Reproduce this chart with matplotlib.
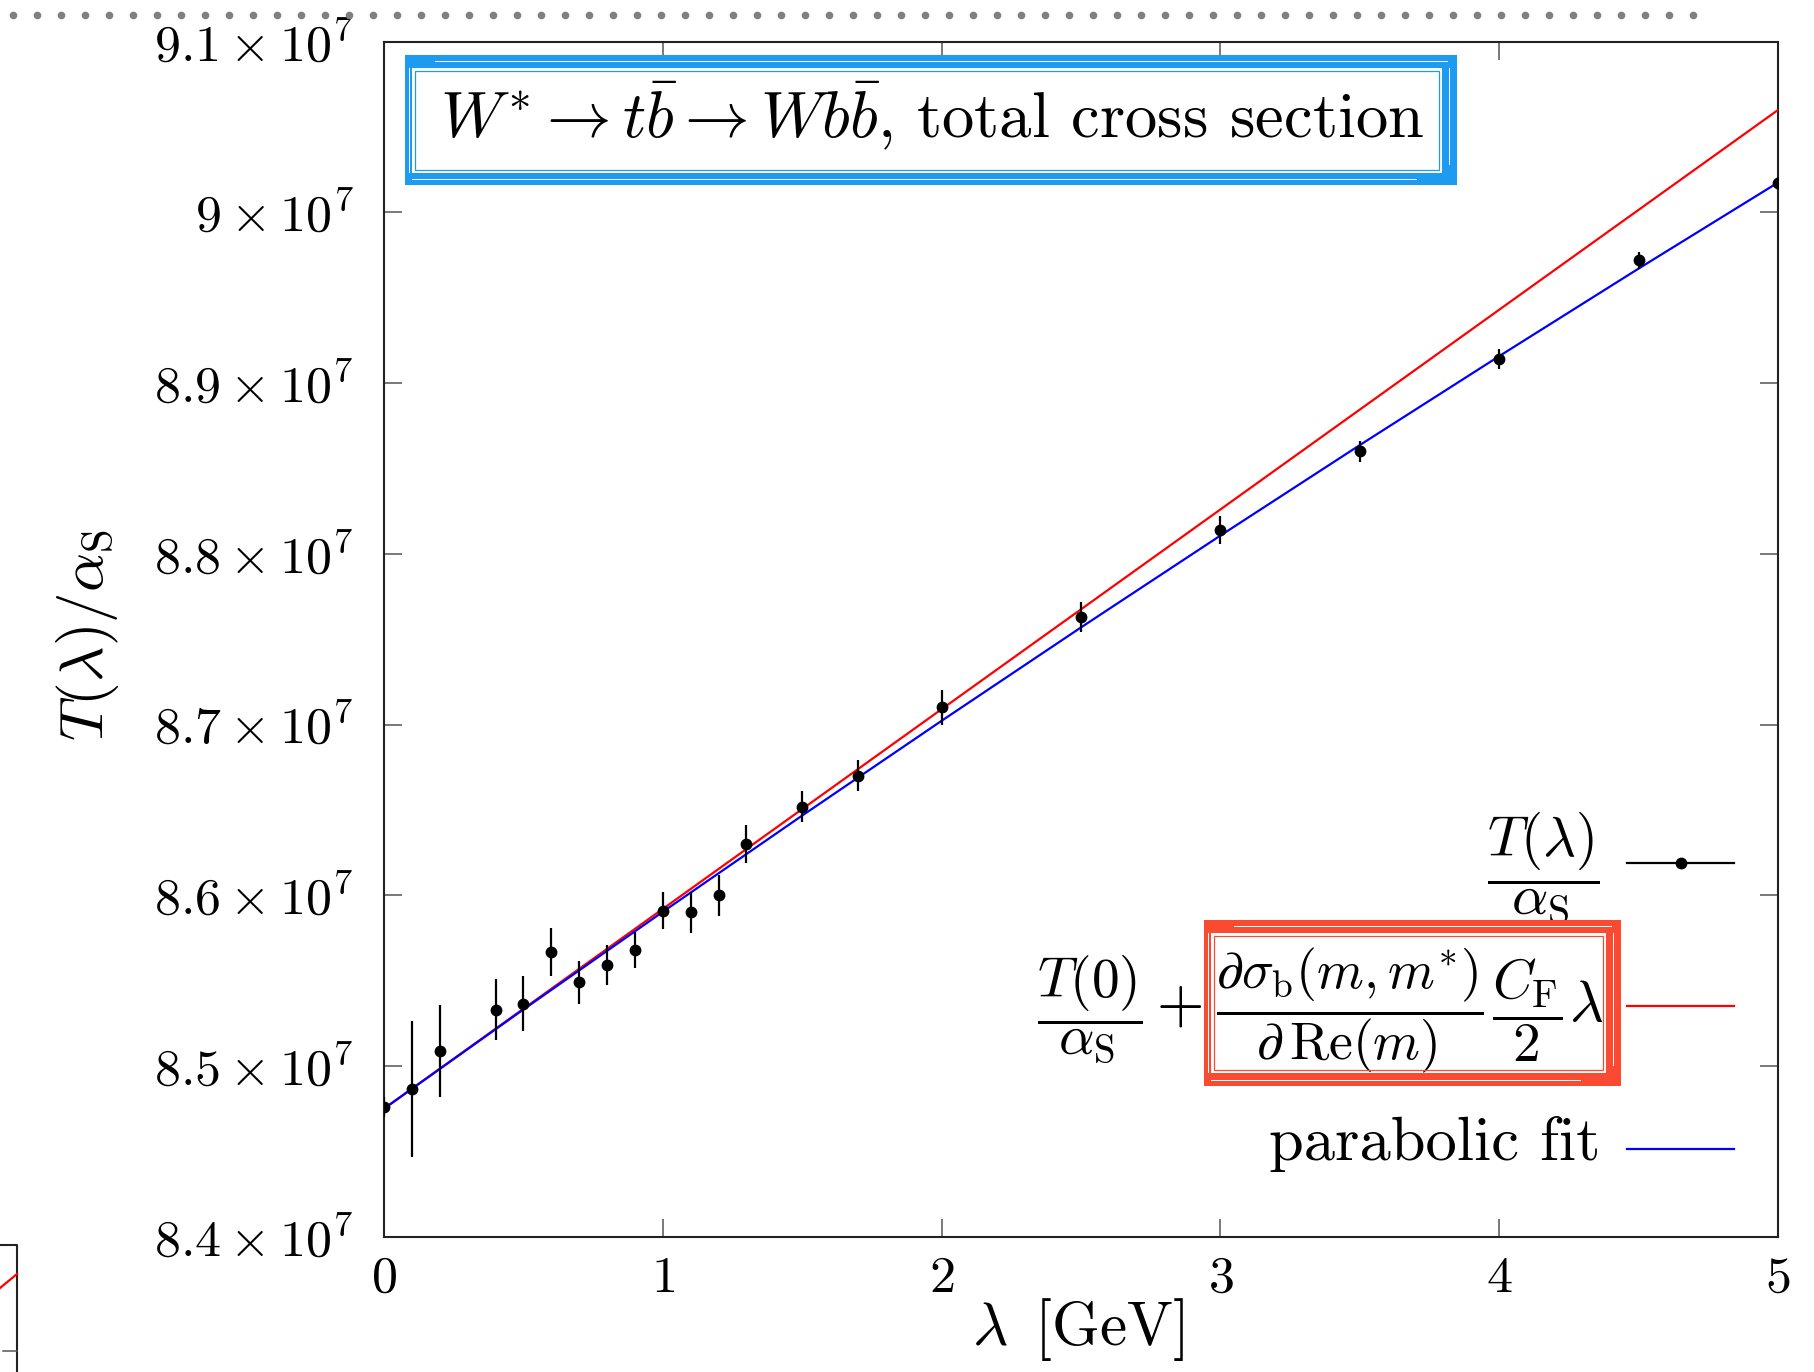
import numpy as np
import matplotlib
matplotlib.use("Agg")
import matplotlib.pyplot as plt
from matplotlib.patches import Rectangle
from matplotlib.lines import Line2D

plt.rcParams["font.family"] = "cmr10"
plt.rcParams["mathtext.fontset"] = "cm"
plt.rcParams["axes.formatter.use_mathtext"] = True

# data (values in units of 1e7)
lam = [0.0, 0.1, 0.2, 0.4, 0.5, 0.6, 0.7, 0.8, 0.9, 1.0, 1.1, 1.2, 1.3,
       1.5, 1.7, 2.0, 2.5, 3.0, 3.5, 4.0, 4.5, 5.0]
T_over_as = [8.476, 8.4865, 8.509, 8.533, 8.5365, 8.567, 8.549, 8.559, 8.568,
             8.591, 8.590, 8.600, 8.630, 8.652, 8.670, 8.710, 8.763, 8.814,
             8.860, 8.914, 8.972, 9.017]
T_err = [0.006, 0.040, 0.027, 0.018, 0.016, 0.014, 0.0127, 0.0117, 0.0105,
         0.011, 0.012, 0.012, 0.011, 0.009, 0.009, 0.010, 0.009, 0.008,
         0.006, 0.006, 0.005, 0.004]

# linear (red) line end points
lin_lam = [0.0, 5.0]
lin_val = [8.475, 9.060]

# parabolic fit (blue)
fit_lam = [0.0, 0.5, 1.0, 1.5, 2.0, 2.5, 3.0, 3.5, 4.0, 4.5, 5.0]
fit_val = [8.4750, 8.5331, 8.5903, 8.6467, 8.7022, 8.7569, 8.8107, 8.8637,
           8.9158, 8.9671, 9.0175]

yticks = [8.4, 8.5, 8.6, 8.7, 8.8, 8.9, 9.0, 9.1]
ytick_labels = [r"$8.4\times10^{7}$", r"$8.5\times10^{7}$", r"$8.6\times10^{7}$",
                r"$8.7\times10^{7}$", r"$8.8\times10^{7}$", r"$8.9\times10^{7}$",
                r"$9\times10^{7}$", r"$9.1\times10^{7}$"]
xticks = [0, 1, 2, 3, 4, 5]

W, H = 1814, 1372


def fx(x):
    return x / W


def fy(y):
    return 1 - y / H


fig = plt.figure(figsize=(W / 100, H / 100), dpi=100)
ax = fig.add_axes([fx(384), fy(1236.7), fx(1778) - fx(384), fy(41.7) - fy(1236.7)])

scale = 1e7
ax.errorbar(lam, np.array(T_over_as) * scale, yerr=np.array(T_err) * scale,
            fmt="o", color="black", ms=7.5, elinewidth=1.6, capsize=0, zorder=4)
ax.plot(lin_lam, np.array(lin_val) * scale, color="red", lw=1.6, zorder=3)
ax.plot(fit_lam, np.array(fit_val) * scale, color="blue", lw=1.6, zorder=3)

ax.set_xlim(0, 5)
ax.set_ylim(8.4e7, 9.1e7)
ax.set_xticks(xticks)
ax.set_xticklabels([f"${v}$" for v in xticks])
ax.set_yticks(np.array(yticks) * scale)
ax.set_yticklabels(ytick_labels)
ax.tick_params(direction="in", top=True, right=True, length=13, width=1.1,
               color="#555555", labelsize=37.5)
ax.tick_params(axis="y", pad=22)
ax.tick_params(axis="x", pad=14)
for sp in ax.spines.values():
    sp.set_linewidth(1.5)
    sp.set_color("#222222")

ax.set_xlabel(r"$\lambda\ \,[\mathrm{GeV}]$", fontsize=44, va="center")
ax.xaxis.set_label_coords(0.498, -0.078)
ax.set_ylabel(r"$T(\lambda)/\alpha_\mathrm{S}$", fontsize=44, va="center", ha="center")
ax.yaxis.set_label_coords(-0.213, 0.503)

# title box
fig.text(fx(932), fy(137), r"$W^{*}\rightarrow t\bar{b}\rightarrow Wb\bar{b}$, total cross section",
         ha="center", va="baseline", fontsize=46.5)


def band(x0, y0, x1, y1, color, z=5):
    fig.add_artist(Rectangle((fx(x0), fy(y1)), fx(x1 - x0), (y1 - y0) / H,
                             transform=fig.transFigure, fc=color, ec="none", zorder=z))


def sketch_box(x0, y0, x1, y1, color, top, bottom, left, right):
    # brush-like frame, pixel coordinates from the top-left corner
    band(x0, y0, x1, y0 + top, color)
    band(x0, y1 - bottom, x1, y1, color)
    band(x0, y0, x0 + left, y1, color)
    band(x1 - right, y0, x1, y1, color)
    # light streaks inside the strokes
    band(x0 + 30, y0 + top * 0.45, x1 - right * 0.6, y0 + top * 0.45 + 1.2, "white", 6)
    band(x0 + left, y1 - bottom * 0.5, x1 - 40, y1 - bottom * 0.5 + 1.2, "white", 6)
    band(x0 + left * 0.5, y0 + top, x0 + left * 0.5 + 1.2, y1 - bottom, "white", 6)
    band(x1 - right * 0.55, y0 + top, x1 - right * 0.55 + 1.2, y1 - 20, "white", 6)
    # thin inner stroke
    fig.add_artist(Rectangle((fx(x0 + left + 3), fy(y1 - bottom - 3)),
                             fx(x1 - x0 - left - right - 6), (y1 - y0 - top - bottom - 6) / H,
                             transform=fig.transFigure, fill=False, ec=color, lw=0.9, zorder=5))


sketch_box(405, 55, 1457, 185, "#1d9bf0", 13, 12, 7, 15)
sketch_box(1204, 920, 1621, 1086, "#fa4a32", 13, 13, 7, 15)

# key
leg_x0, leg_x1 = 1627, 1734
fig.add_artist(Line2D([fx(leg_x0), fx(leg_x1)], [fy(863), fy(863)], color="black", lw=1.6))
fig.add_artist(Line2D([fx((leg_x0 + leg_x1) / 2)], [fy(863)], color="black", marker="o", ms=7.5))
fig.add_artist(Line2D([fx(leg_x0), fx(leg_x1)], [fy(1006), fy(1006)], color="red", lw=1.6))
fig.add_artist(Line2D([fx(leg_x0), fx(leg_x1)], [fy(1149), fy(1149)], color="blue", lw=1.6))

fig.text(fx(1543), fy(868), r"$\dfrac{T(\lambda)}{\alpha_\mathrm{S}}$", ha="center", va="center", fontsize=41)

# second key entry, set in pieces to follow the original spacing
key_fs = 40
fig.text(fx(1090), fy(1010), r"$\dfrac{T(0)}{\alpha_\mathrm{S}}$", ha="center", va="center", fontsize=key_fs)
fig.text(fx(1179), fy(1006), r"$+$", ha="center", va="center", fontsize=key_fs + 4)
fig.text(fx(1350), fy(1010), r"$\dfrac{\partial\sigma_\mathrm{b}(m,m^{*})}{\partial\,\mathrm{Re}(m)}$",
         ha="center", va="center", fontsize=key_fs - 1.5)
fig.text(fx(1527), fy(1010), r"$\dfrac{C_\mathrm{F}}{2}$", ha="center", va="center", fontsize=key_fs)
fig.text(fx(1586), fy(1006), r"$\lambda$", ha="center", va="center", fontsize=key_fs + 2)

fig.text(fx(1600), fy(1160), "parabolic fit", ha="right", va="baseline", fontsize=45)

# dotted rule at the top of the page
dots_x = np.arange(13, 1700, 24)
fig.add_artist(Line2D(dots_x / W, np.full(len(dots_x), fy(15)), ls="none", marker="o",
                      ms=5.5, color="#7f7f7f", mec="none"))

# fragment of a neighbouring panel at bottom left
fig.add_artist(Line2D([0, fx(17), fx(17)], [fy(1245), fy(1245), 0], color="#222222", lw=1.5))
fig.add_artist(Line2D([0, fx(17)], [fy(1288), fy(1274)], color="red", lw=1.6))
fig.add_artist(Line2D([fx(3), fx(17)], [fy(1351), fy(1351)], color="#555555", lw=1.1))

fig.savefig("out.png", dpi=100)
